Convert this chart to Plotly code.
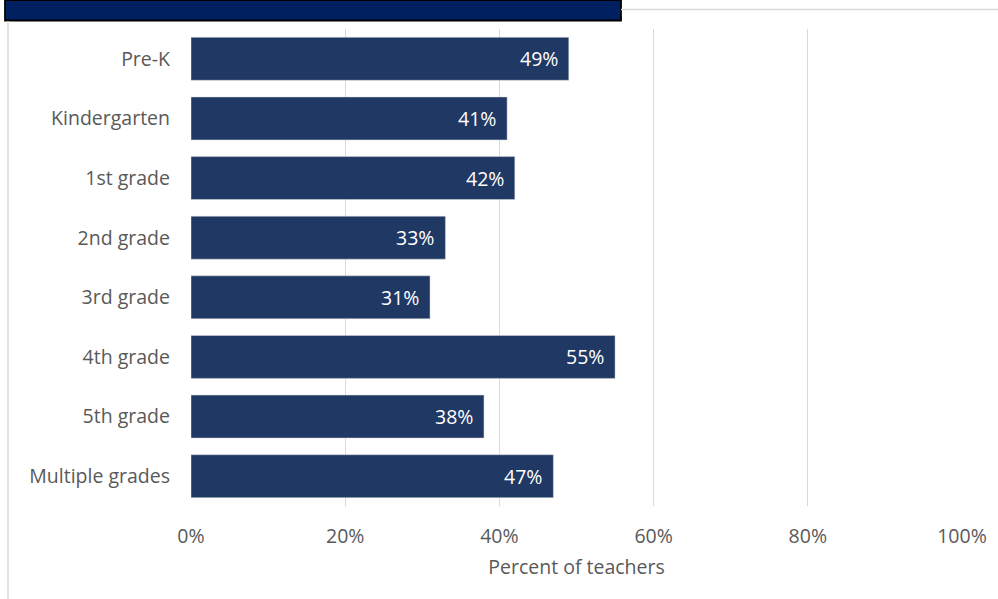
import plotly.graph_objects as go

categories = ["Pre-K", "Kindergarten", "1st grade", "2nd grade", "3rd grade",
              "4th grade", "5th grade", "Multiple grades"]
values = [49, 41, 42, 33, 31, 55, 38, 47]
tick_vals = [0, 20, 40, 60, 80, 100]
tick_text = ["0%", "20%", "40%", "60%", "80%", "100%"]

W, H = 998, 599
L, R, T, B = 191, 36, 29, 93
FONT = "Open Sans, Liberation Sans, Arial, sans-serif"
FS = 19.5
TXT = "#595959"
BAR = "#203864"

fig = go.Figure()
fig.add_trace(go.Bar(
    y=categories, x=values, orientation="h",
    marker=dict(color=BAR, line=dict(color="#d9d9d9", width=0.5)),
    width=0.72,
    hoverinfo="x+y",
))

for c, v in zip(categories, values):
    fig.add_annotation(x=v, y=c, text=f"{v}%", showarrow=False, xanchor="right",
                       xshift=-9, font=dict(family=FONT, size=FS, color="white"))

pw = W - L - R
ph = H - T - B
def px(x):
    return (x - L) / pw
def py(y):
    return 1 - (y - T) / ph

fig.add_shape(type="rect", xref="paper", yref="paper",
              x0=px(5), x1=px(621), y0=py(0), y1=py(20.5),
              fillcolor="#002060", line=dict(color="black", width=1.8), layer="above")
fig.add_shape(type="line", xref="paper", yref="paper",
              x0=px(621), x1=px(998), y0=py(9.5), y1=py(9.5),
              line=dict(color="#d9d9d9", width=1.5))
fig.add_shape(type="line", xref="paper", yref="paper",
              x0=px(8), x1=px(8), y0=py(21), y1=py(599),
              line=dict(color="#d9d9d9", width=1.5))

fig.update_layout(
    width=W, height=H,
    margin=dict(l=L, r=R, t=T, b=B, pad=0),
    paper_bgcolor="white", plot_bgcolor="white",
    showlegend=False,
    font=dict(family=FONT, size=FS, color=TXT),
    xaxis=dict(range=[0, 100], tickvals=tick_vals, ticktext=tick_text,
               showgrid=True, gridcolor="#d9d9d9", gridwidth=1.3,
               zeroline=False, showline=False, ticks="",
               tickfont=dict(family=FONT, size=FS, color=TXT),
               title=dict(text="Percent of teachers", font=dict(family=FONT, size=FS, color=TXT), standoff=12),
               ticklabelstandoff=16),
    yaxis=dict(categoryorder="array", categoryarray=categories,
               autorange=False, range=[7.5, -0.5], showgrid=False, zeroline=False, showline=False,
               ticks="", ticklabelstandoff=20,
               tickfont=dict(family=FONT, size=FS, color=TXT)),
)

fig.write_html("out.html")
